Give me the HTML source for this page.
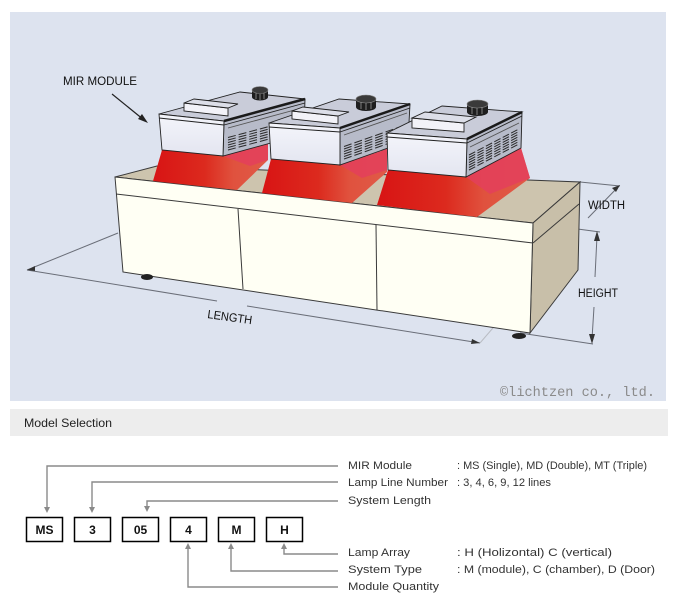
<!DOCTYPE html>
<html><head><meta charset="utf-8"><style>
html,body{margin:0;padding:0;background:#fff;}
svg{display:block;}
</style></head><body>
<svg width="680" height="610" viewBox="0 0 680 610" xmlns="http://www.w3.org/2000/svg">
<defs>
<linearGradient id="beam" x1="0" y1="0" x2="1" y2="0">
<stop offset="0" stop-color="#d81414"/>
<stop offset="0.45" stop-color="#dc2a1e"/>
<stop offset="0.7" stop-color="#e0523e"/>
<stop offset="1" stop-color="#e05a48"/>
</linearGradient>
<linearGradient id="front" x1="0" y1="0" x2="0" y2="1">
<stop offset="0" stop-color="#f4f5fb"/>
<stop offset="1" stop-color="#e3e5f0"/>
</linearGradient>
</defs>
<rect x="0" y="0" width="680" height="610" fill="#fff"/>
<rect x="10" y="12" width="656" height="389" fill="#dde3ef"/>

<!-- dimension extension lines behind table -->
<g stroke="#6a6e78" stroke-width="1" fill="none">
<line x1="118" y1="233" x2="27" y2="270"/>
<line x1="27" y1="270" x2="217" y2="301"/>
<line x1="247" y1="306" x2="480" y2="343"/>
<line x1="480" y1="343" x2="524" y2="292" stroke="#b9bcc3"/>
<line x1="520" y1="333" x2="593" y2="344"/>
<line x1="580" y1="182" x2="620" y2="186"/>
<line x1="533" y1="223" x2="600" y2="232"/>
<line x1="588" y1="218" x2="619" y2="186"/>
<line x1="597" y1="236" x2="595" y2="277"/>
<line x1="594" y1="307" x2="592" y2="339"/>
</g>
<g fill="#333">
<polygon points="27,270 35,266 35,271"/>
<polygon points="480,343 472,339 471,344"/>
<polygon points="620,185 612,188 616,192"/>
<polygon points="597,231 594,241 600,241"/>
<polygon points="592,344 589,334 595,334"/>
</g>

<!-- table -->
<polygon points="115,177 533,223 580,182 157,166" fill="#cdc4ae" stroke="#3a3a3a" stroke-width="1"/>
<polygon points="533,223 580,182 578,270 530,333" fill="#c8bfa9" stroke="#3a3a3a" stroke-width="1"/>
<polygon points="115,177 533,223 530,333 123,272" fill="#fffff4" stroke="#3a3a3a" stroke-width="1"/>
<g stroke="#3a3a3a" stroke-width="1" fill="none">
<line x1="116" y1="194" x2="533" y2="243"/>
<line x1="533" y1="243" x2="579" y2="204"/>
<line x1="238" y1="209" x2="243" y2="289"/>
<line x1="376" y1="225" x2="377" y2="310"/>
</g>
<ellipse cx="147" cy="277" rx="6" ry="3" fill="#222"/>
<ellipse cx="519" cy="336" rx="7" ry="3" fill="#222"/>

<!-- module 1 beam -->
<polygon points="162,150 223,156 268,144 268,160 237,190 153,181" fill="url(#beam)"/>
<polygon points="223,156 268,144 268,160 250,166" fill="#e3405c" opacity="0.85"/>
<!-- module 1 -->
<g stroke="#222" stroke-width="0.9">
<polygon points="224,121 305,99 304,134 223,156" fill="#b7bbc9"/>
<polygon points="159,114 224,121 305,99 240,92" fill="#c9ccd9"/>
<polygon points="159,114 224,121 223,156 162,150" fill="url(#front)"/>
<line x1="159" y1="118" x2="224" y2="125"/>
<line x1="224" y1="125" x2="305" y2="103"/>
<line x1="228" y1="128" x2="302" y2="108" stroke="#555"/>
<polygon points="184,103 228,108 228,116 184,111" fill="#f2f2f8"/>
<polygon points="184,103 228,108 238,104 194,99" fill="#dcdee8"/>
</g>
<line x1="224" y1="121" x2="305" y2="99" stroke="#1a1a1a" stroke-width="2.5"/>
<g stroke="#2a2a2a" stroke-width="1" stroke-dasharray="8 3">
<line x1="228" y1="150" x2="299" y2="131"/>
<line x1="228" y1="147.5" x2="299" y2="128.5"/>
<line x1="228" y1="145" x2="299" y2="126"/>
<line x1="228" y1="142.5" x2="299" y2="123.5"/>
<line x1="228" y1="140" x2="299" y2="121"/>
<line x1="228" y1="137.5" x2="299" y2="118.5"/>
</g>
<path d="M252,90 v7 a8,3.5 0 0 0 16,0 v-7 z" fill="#1e1e1e"/>
<ellipse cx="260" cy="90" rx="8" ry="3.5" fill="#3a3a3a" stroke="#888" stroke-width="0.6"/>
<g stroke="#999" stroke-width="0.8"><line x1="256" y1="93" x2="256" y2="99"/><line x1="260" y1="94" x2="260" y2="100"/><line x1="264" y1="93" x2="264" y2="99"/></g>

<!-- module 2 beam -->
<polygon points="271,159 340,165 387,149 387,172 352,203 262,193" fill="url(#beam)"/>
<polygon points="340,165 387,149 387,170 362,178" fill="#e3405c" opacity="0.85"/>
<!-- module 2 -->
<g stroke="#222" stroke-width="0.9">
<polygon points="340,128 410,104 408,141 340,165" fill="#b7bbc9"/>
<polygon points="269,123 340,128 410,104 339,99" fill="#c9ccd9"/>
<polygon points="269,123 340,128 340,165 271,159" fill="url(#front)"/>
<line x1="269" y1="127" x2="340" y2="132"/>
<line x1="340" y1="132" x2="410" y2="108"/>
<line x1="344" y1="135" x2="407" y2="113" stroke="#555"/>
<polygon points="292,111 338,116 338,124 292,119" fill="#f2f2f8"/>
<polygon points="292,111 338,116 349,112 303,107" fill="#dcdee8"/>
</g>
<line x1="340" y1="128" x2="410" y2="104" stroke="#1a1a1a" stroke-width="2.5"/>
<g stroke="#2a2a2a" stroke-width="1" stroke-dasharray="8 3">
<line x1="344" y1="159" x2="404" y2="138"/>
<line x1="344" y1="156.5" x2="404" y2="135.5"/>
<line x1="344" y1="154" x2="404" y2="133"/>
<line x1="344" y1="151.5" x2="404" y2="130.5"/>
<line x1="344" y1="149" x2="404" y2="128"/>
<line x1="344" y1="146.5" x2="404" y2="125.5"/>
</g>
<path d="M356,99 v8 a10,4 0 0 0 20,0 v-8 z" fill="#1e1e1e"/>
<ellipse cx="366" cy="99" rx="10" ry="4" fill="#3a3a3a" stroke="#888" stroke-width="0.6"/>
<g stroke="#999" stroke-width="0.8"><line x1="361" y1="102" x2="361" y2="109"/><line x1="366" y1="103" x2="366" y2="110"/><line x1="371" y1="102" x2="371" y2="109"/></g>

<!-- module 3 beam -->
<polygon points="388,170 466,177 521,148 530,178 477,217 377,205" fill="url(#beam)"/>
<polygon points="466,177 521,148 530,178 490,194" fill="#e3405c" opacity="0.85"/>
<!-- module 3 -->
<g stroke="#222" stroke-width="0.9">
<polygon points="467,139 522,112 521,148 466,177" fill="#b7bbc9"/>
<polygon points="387,133 467,139 522,112 442,106" fill="#c9ccd9"/>
<polygon points="387,133 467,139 466,177 388,170" fill="url(#front)"/>
<line x1="387" y1="137" x2="467" y2="143"/>
<line x1="467" y1="143" x2="522" y2="116"/>
<line x1="470" y1="147" x2="519" y2="123" stroke="#555"/>
<polygon points="412,118 464,123 464,132 412,128" fill="#f2f2f8"/>
<polygon points="412,118 464,123 476,117 425,112" fill="#dcdee8"/>
</g>
<line x1="467" y1="139" x2="522" y2="112" stroke="#1a1a1a" stroke-width="2.5"/>
<g stroke="#2a2a2a" stroke-width="1" stroke-dasharray="7 2.5">
<line x1="469" y1="170" x2="518" y2="144.5"/>
<line x1="469" y1="167.5" x2="518" y2="142"/>
<line x1="469" y1="165" x2="518" y2="139.5"/>
<line x1="469" y1="162.5" x2="518" y2="137"/>
<line x1="469" y1="160" x2="518" y2="134.5"/>
<line x1="469" y1="157.5" x2="518" y2="132"/>
<line x1="469" y1="155" x2="518" y2="129.5"/>
</g>
<path d="M467,104 v8 a10.5,4 0 0 0 21,0 v-8 z" fill="#1e1e1e"/>
<ellipse cx="477.5" cy="104" rx="10.5" ry="4" fill="#3a3a3a" stroke="#888" stroke-width="0.6"/>
<g stroke="#999" stroke-width="0.8"><line x1="472" y1="107" x2="472" y2="114"/><line x1="477" y1="108" x2="477" y2="115"/><line x1="482" y1="107" x2="482" y2="114"/></g>

<!-- MIR MODULE label -->
<text x="63" y="85" font-family="Liberation Sans, sans-serif" font-size="12" fill="#111" textLength="74" lengthAdjust="spacingAndGlyphs">MIR MODULE</text>
<line x1="112" y1="94" x2="144" y2="120" stroke="#222" stroke-width="1.2"/>
<polygon points="148,123 138,119 142,114" fill="#222"/>

<text x="0" y="0" transform="translate(207,318) rotate(8)" font-family="Liberation Sans, sans-serif" font-size="12" fill="#111" textLength="45" lengthAdjust="spacingAndGlyphs">LENGTH</text>
<text x="588" y="209" font-family="Liberation Sans, sans-serif" font-size="11.5" fill="#111" textLength="37" lengthAdjust="spacingAndGlyphs">WIDTH</text>
<text x="578" y="297" font-family="Liberation Sans, sans-serif" font-size="11.5" fill="#111" textLength="40" lengthAdjust="spacingAndGlyphs">HEIGHT</text>
<text x="500" y="396" font-family="Liberation Mono, monospace" font-size="14" fill="#8a8a8a" textLength="155" lengthAdjust="spacingAndGlyphs">©lichtzen co., ltd.</text>

<!-- Model Selection -->
<rect x="10" y="409" width="658" height="27" fill="#ededed"/>
<text x="24" y="427" font-family="Liberation Sans, sans-serif" font-size="12" fill="#222" textLength="88" lengthAdjust="spacingAndGlyphs">Model Selection</text>

<!-- connectors -->
<g stroke="#8a8a8a" stroke-width="1.4" fill="none">
<polyline points="338,466 47,466 47,508"/>
<polyline points="338,482 92,482 92,508"/>
<polyline points="338,501 147,501 147,508"/>
<polyline points="338,554 284,554 284,547"/>
<polyline points="338,571 231,571 231,547"/>
<polyline points="338,587 188,587 188,547"/>
</g>
<g fill="#8a8a8a">
<polygon points="44,507 50,507 47,513"/>
<polygon points="89,507 95,507 92,513"/>
<polygon points="144,506 150,506 147,512"/>
<polygon points="281,549 287,549 284,543"/>
<polygon points="228,549 234,549 231,543"/>
<polygon points="185,549 191,549 188,543"/>
</g>

<!-- boxes -->
<g fill="#fff" stroke="#000" stroke-width="1.5">
<rect x="26.5" y="517.5" width="36" height="24"/>
<rect x="74.5" y="517.5" width="36" height="24"/>
<rect x="122.5" y="517.5" width="36" height="24"/>
<rect x="170.5" y="517.5" width="36" height="24"/>
<rect x="218.5" y="517.5" width="36" height="24"/>
<rect x="266.5" y="517.5" width="36" height="24"/>
</g>
<g font-family="Liberation Sans, sans-serif" font-size="12" font-weight="bold" fill="#111" text-anchor="middle">
<text x="44.5" y="534">MS</text>
<text x="92.5" y="534">3</text>
<text x="140.5" y="534">05</text>
<text x="188.5" y="534">4</text>
<text x="236.5" y="534">M</text>
<text x="284.5" y="534">H</text>
</g>

<!-- labels -->
<g font-family="Liberation Sans, sans-serif" font-size="11" fill="#333" lengthAdjust="spacingAndGlyphs">
<text x="348" y="469" textLength="64" lengthAdjust="spacingAndGlyphs">MIR Module</text>
<text x="348" y="486" textLength="100" lengthAdjust="spacingAndGlyphs">Lamp Line Number</text>
<text x="348" y="504" textLength="83" lengthAdjust="spacingAndGlyphs">System Length</text>
<text x="348" y="556" textLength="62" lengthAdjust="spacingAndGlyphs">Lamp Array</text>
<text x="348" y="573" textLength="74" lengthAdjust="spacingAndGlyphs">System Type</text>
<text x="348" y="590" textLength="91" lengthAdjust="spacingAndGlyphs">Module Quantity</text>
<text x="457" y="469" textLength="190" lengthAdjust="spacingAndGlyphs">: MS (Single), MD (Double), MT (Triple)</text>
<text x="457" y="486" textLength="94" lengthAdjust="spacingAndGlyphs">: 3, 4, 6, 9, 12 lines</text>
<text x="457" y="556" textLength="155" lengthAdjust="spacingAndGlyphs">: H (Holizontal)  C (vertical)</text>
<text x="457" y="573" textLength="198" lengthAdjust="spacingAndGlyphs">: M (module), C (chamber), D (Door)</text>
</g>
</svg>
</body></html>
